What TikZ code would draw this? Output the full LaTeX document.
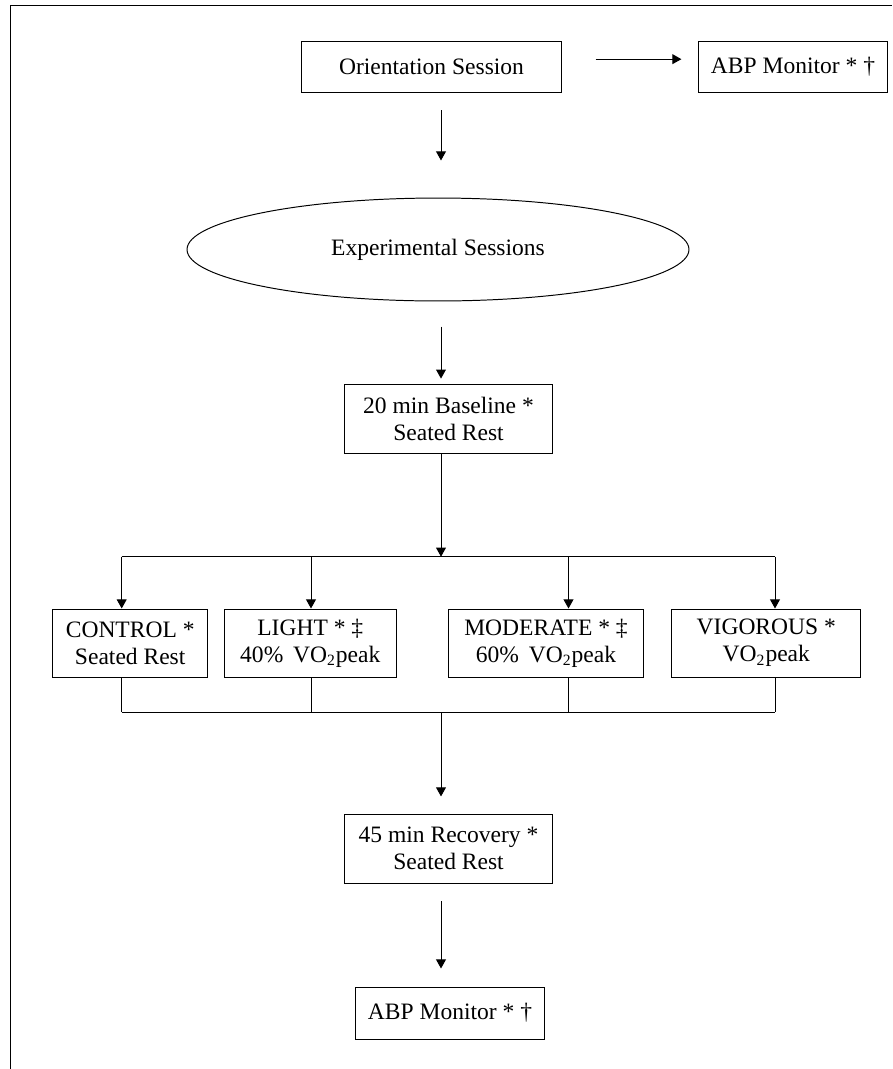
\documentclass[tikz,border=0pt]{standalone}
\usepackage{fontspec}
\setmainfont{Liberation Serif}
\usetikzlibrary{arrows.meta,shapes.geometric}

\begin{document}
\begin{tikzpicture}[x=0.51pt,y={(0pt,-0.51pt)},line width=0.5pt,
  >={Triangle[length=4.6pt,width=5pt]},
  box/.style={draw,align=center,inner sep=1pt,font=\fontsize{12}{13.8}\selectfont},
  ses/.style={draw,ellipse,inner sep=0pt,font=\fontsize{12}{13.8}\selectfont}]
  \useasboundingbox (0,0) rectangle (892,1069);
  \draw (10.7,1069) -- (10.7,5) -- (892,5);
  % top row
  \node[box,minimum width=133pt,minimum height=26pt] (orient) at (431.5,67) {Orientation Session};
  \node[box,minimum width=95.9pt,minimum height=26.5pt] (abptop) at (793,67) {ABP Monitor * \textdagger};
  \draw[->,shorten <=17pt,shorten >=8.7pt] ([yshift=4pt]orient.east) -- ([yshift=4pt]abptop.west);
  \node[ses,minimum width=256pt,minimum height=52.5pt] (expses) at (438,249.5) {Experimental Sessions};
  \node[box,minimum width=105.6pt,minimum height=34.7pt] (baseline) at (448.5,419) {20 min Baseline *\\Seated Rest};
  \coordinate (axis) at (441,0);
  \draw[->,shorten <=8.7pt,shorten >=18.9pt] (orient.south -| axis) -- (expses.north -| axis);
  \draw[->,shorten <=12.8pt,shorten >=3pt] (expses.south -| axis) -- (baseline.north -| axis);
  % conditions
  \node[box,minimum width=79pt,minimum height=34.7pt] (control) at (130.2,643) {CONTROL *\\Seated Rest};
  \node[box,minimum width=88pt,minimum height=34.7pt] (light) at (310.3,643) {LIGHT * \textdaggerdbl\\40\% \,VO\textsubscript{2}peak};
  \node[box,minimum width=99.8pt,minimum height=34.7pt] (moderate) at (546,643) {MODERATE * \textdaggerdbl\\60\% \,VO\textsubscript{2}peak};
  \node[box,minimum width=96.5pt,minimum height=34.7pt] (vigorous) at (766.3,643) {VIGOROUS *\\VO\textsubscript{2}peak};
  \coordinate (splitc) at (121.7,556.7);
  \coordinate (splitl) at (311,556.7);
  \coordinate (splitm) at (568.5,556.7);
  \coordinate (splitv) at (775,556.7);
  \coordinate (mergec) at (121.7,712.3);
  \coordinate (mergel) at (311,712.3);
  \coordinate (mergem) at (568.5,712.3);
  \coordinate (mergev) at (775,712.3);
  \draw[->] (baseline.south -| axis) -- (splitc -| axis);
  \draw (splitc) -- (splitv);
  \foreach \s/\n in {splitc/control,splitl/light,splitm/moderate,splitv/vigorous}
    \draw[->] (\s) -- (\s |- \n.north);
  \foreach \m/\n in {mergec/control,mergel/light,mergem/moderate,mergev/vigorous}
    \draw (\m |- \n.south) -- (\m);
  \draw (mergec) -- (mergev);
  % recovery
  \node[box,minimum width=105.6pt,minimum height=35.2pt] (recovery) at (448.5,848.5) {45 min Recovery *\\Seated Rest};
  \node[box,minimum width=95.9pt,minimum height=26.5pt] (abpend) at (450,1013) {ABP Monitor * \textdagger};
  \draw[->,shorten >=8.7pt] (mergec -| axis) -- (recovery.north -| axis);
  \draw[->,shorten <=9pt,shorten >=9.2pt] (recovery.south -| axis) -- (abpend.north -| axis);
\end{tikzpicture}
\end{document}
